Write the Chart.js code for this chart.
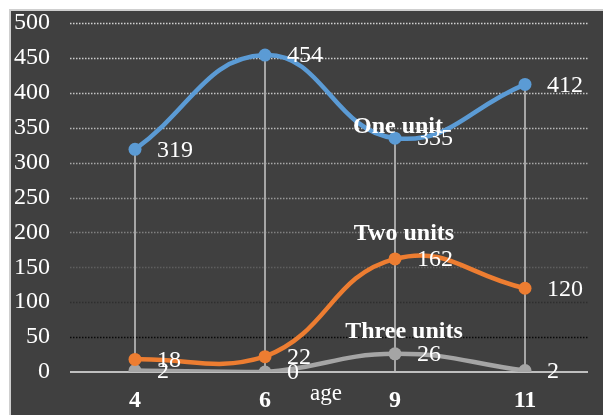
<!DOCTYPE html>
<html>
<head>
<meta charset="utf-8">
<title>Units by age</title>
<script src="https://cdn.jsdelivr.net/npm/chart.js@4/dist/chart.umd.min.js"></script>
<style>
  html, body { margin: 0; padding: 0; background: #ffffff; }
  #wrap { width: 603px; height: 415px; }
</style>
</head>
<body>
<div id="wrap"><canvas id="c" width="603" height="415"></canvas></div>
<script>
// Categories (age) and values per series
const ages = ['4', '6', '9', '11'];
const oneUnit = [319, 454, 335, 412];
const twoUnits = [18, 22, 162, 120];
const threeUnits = [2, 0, 26, 2];
const seriesNames = ['One unit', 'Two units', 'Three units'];
const yTicks = [0, 50, 100, 150, 200, 250, 300, 350, 400, 450, 500];

const SERIF = '"Liberation Serif", "Times New Roman", serif';
const gridShades = {
  500: '#d2d2d2', 450: '#cdcdcd', 400: '#c4c4c4', 350: '#b8b8b8', 300: '#a8a8a8',
  250: '#979797', 200: '#808080', 150: '#5e5e5e', 100: '#2e2e2e', 50: '#0a0a0a'
};

const panelPlugin = {
  id: 'panel',
  // series title placement: category index, value, horizontal nudge
  titleSpots: [[2, 351, 3], [2, 198, 9], [2, 57, 9]],
  beforeDraw(chart) {
    const ctx = chart.ctx;
    ctx.save();
    ctx.fillStyle = '#ffffff';
    ctx.fillRect(0, 0, chart.width, chart.height);
    ctx.fillStyle = '#cfcfcf';
    ctx.fillRect(9, 9, chart.width - 9, chart.height - 9);
    ctx.fillStyle = '#404040';
    ctx.fillRect(11, 11, chart.width - 11, chart.height - 11);
    ctx.restore();
  },
  beforeDatasetsDraw(chart) {
    const ctx = chart.ctx;
    const x = chart.scales.x, y = chart.scales.y;
    const area = chart.chartArea;
    ctx.save();
    // dotted horizontal gridlines
    ctx.lineWidth = 1.5;
    ctx.setLineDash([1.5, 1.5]);
    yTicks.forEach(v => {
      if (v === 0) return;
      const py = Math.round(y.getPixelForValue(v)) + 0.5;
      ctx.strokeStyle = gridShades[v];
      ctx.beginPath();
      ctx.moveTo(area.left, py);
      ctx.lineTo(area.right - 2, py);
      ctx.stroke();
    });
    ctx.setLineDash([]);
    // drop lines from the highest point down to the axis
    ctx.strokeStyle = '#a6a6a6';
    ctx.lineWidth = 2;
    ages.forEach((a, i) => {
      const top = Math.max(oneUnit[i], twoUnits[i], threeUnits[i]);
      const px = x.getPixelForValue(i);
      ctx.beginPath();
      ctx.moveTo(px, y.getPixelForValue(top));
      ctx.lineTo(px, y.getPixelForValue(0));
      ctx.stroke();
    });
    // zero line
    const zy = y.getPixelForValue(0);
    ctx.strokeStyle = '#bfbfbf';
    ctx.lineWidth = 2;
    ctx.beginPath();
    ctx.moveTo(area.left, zy);
    ctx.lineTo(area.right - 2, zy);
    ctx.stroke();
    ctx.restore();
  },
  afterDatasetsDraw(chart) {
    const ctx = chart.ctx;
    const x = chart.scales.x, y = chart.scales.y;
    ctx.save();
    ctx.fillStyle = '#ffffff';
    // value labels to the right of each point
    ctx.font = '24px ' + SERIF;
    ctx.textAlign = 'left';
    ctx.textBaseline = 'middle';
    chart.data.datasets.forEach((ds, di) => {
      const meta = chart.getDatasetMeta(di);
      meta.data.forEach((pt, i) => {
        ctx.fillText(String(ds.data[i]), pt.x + 22, pt.y + 1);
      });
    });
    // series titles
    ctx.font = 'bold 24px ' + SERIF;
    ctx.textAlign = 'center';
    seriesNames.forEach((name, i) => {
      const [ci, v, dx] = this.titleSpots[i];
      ctx.fillText(name, x.getPixelForValue(ci) + dx, y.getPixelForValue(v));
    });
    // axis title
    ctx.font = '23px ' + SERIF;
    ctx.fillText('age', 326, 394);
    ctx.restore();
  }
};

const colors = ['#5b9bd5', '#ed7d31', '#a5a5a5'];
const seriesData = [oneUnit, twoUnits, threeUnits];

new Chart(document.getElementById('c'), {
  type: 'line',
  data: {
    labels: ages,
    datasets: seriesData.map((d, i) => ({
      label: seriesNames[i],
      data: d,
      borderColor: colors[i],
      backgroundColor: colors[i],
      pointBackgroundColor: colors[i],
      pointBorderColor: colors[i],
      borderWidth: 4.5,
      pointRadius: 6.5,
      pointBorderWidth: 0,
      tension: 0.45,
      fill: false
    }))
  },
  options: {
    responsive: false,
    animation: false,
    devicePixelRatio: 1,
    layout: { padding: { left: 0, right: 13, top: 23, bottom: 0 } },
    plugins: { legend: { display: false }, tooltip: { enabled: false } },
    scales: {
      x: {
        offset: true,
        grid: { display: false, drawTicks: false },
        border: { display: false },
        ticks: {
          color: '#ffffff',
          font: { family: SERIF, size: 24, weight: 'bold' },
          padding: 14,
          maxRotation: 0
        },
        afterFit(s) { s.height = 43; s.paddingLeft = 0; s.paddingRight = 0; }
      },
      y: {
        min: 0,
        max: 500,
        grid: { display: false, drawTicks: false },
        border: { display: false },
        ticks: {
          stepSize: 50,
          color: '#ffffff',
          font: { family: SERIF, size: 24 },
          padding: 20
        },
        afterFit(s) { s.width = 70; s.paddingTop = 0; s.paddingBottom = 0; }
      }
    }
  },
  plugins: [panelPlugin]
});
</script>
</body>
</html>
